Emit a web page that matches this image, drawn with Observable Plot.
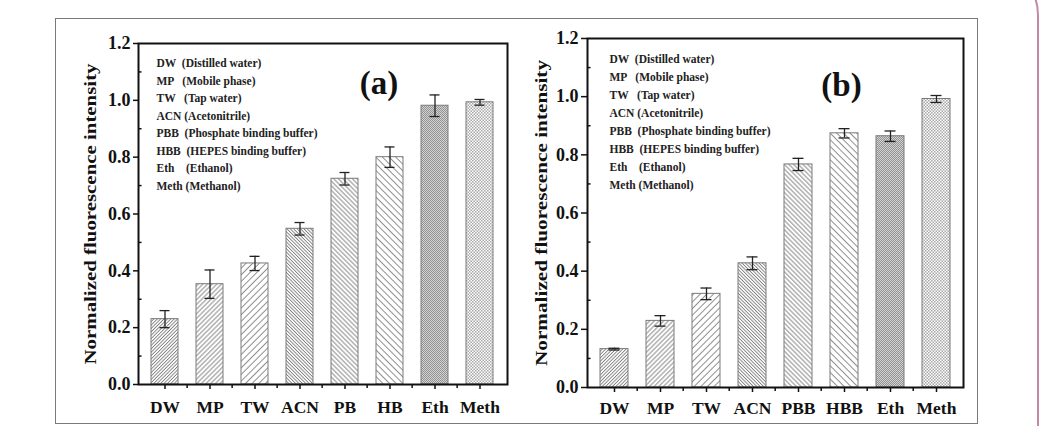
<!DOCTYPE html>
<html>
<head>
<meta charset="utf-8">
<script src="https://cdn.jsdelivr.net/npm/d3@7"></script>
<script src="https://cdn.jsdelivr.net/npm/@observablehq/plot@0.6"></script>
<style>
  html, body { margin: 0; padding: 0; background: #fff; }
  body { width: 1041px; height: 426px; position: relative; overflow: hidden; }
  .panel { position: absolute; top: 19px; }
  .panel svg text { white-space: pre; }
  #frame { position: absolute; left: 55px; top: 18px; width: 923px; height: 406px; box-sizing: border-box; border: 1px solid #7a7a7a; }
  #pink { position: absolute; left: -100px; top: -35px; width: 1139px; height: 600px; box-sizing: border-box; border: 2px solid #c48aa5; border-radius: 50px; }
</style>
</head>
<body>
<svg width="0" height="0" style="position:absolute">
  <defs>
    <pattern id="hD1" patternUnits="userSpaceOnUse" width="2.4" height="4" patternTransform="rotate(45)">
      <rect width="2.4" height="4" fill="#fff"/><line x1="1.2" y1="0" x2="1.2" y2="4" stroke="#7d7d7d" stroke-width="0.9"/>
    </pattern>
    <pattern id="hD2" patternUnits="userSpaceOnUse" width="3.3" height="4" patternTransform="rotate(45)">
      <rect width="3.3" height="4" fill="#fff"/><line x1="1.6" y1="0" x2="1.6" y2="4" stroke="#7d7d7d" stroke-width="0.9"/>
    </pattern>
    <pattern id="hD3" patternUnits="userSpaceOnUse" width="4.7" height="4" patternTransform="rotate(45)">
      <rect width="4.7" height="4" fill="#fff"/><line x1="2.3" y1="0" x2="2.3" y2="4" stroke="#7d7d7d" stroke-width="0.9"/>
    </pattern>
    <pattern id="hB1" patternUnits="userSpaceOnUse" width="2.4" height="4" patternTransform="rotate(-45)">
      <rect width="2.4" height="4" fill="#fff"/><line x1="1.2" y1="0" x2="1.2" y2="4" stroke="#7d7d7d" stroke-width="0.9"/>
    </pattern>
    <pattern id="hB2" patternUnits="userSpaceOnUse" width="3.3" height="4" patternTransform="rotate(-45)">
      <rect width="3.3" height="4" fill="#fff"/><line x1="1.6" y1="0" x2="1.6" y2="4" stroke="#7d7d7d" stroke-width="0.9"/>
    </pattern>
    <pattern id="hB3" patternUnits="userSpaceOnUse" width="4.7" height="4" patternTransform="rotate(-45)">
      <rect width="4.7" height="4" fill="#fff"/><line x1="2.3" y1="0" x2="2.3" y2="4" stroke="#7d7d7d" stroke-width="0.9"/>
    </pattern>
    <pattern id="cD" patternUnits="userSpaceOnUse" width="2" height="2">
      <rect width="2" height="2" fill="#d2d2d2"/><rect width="1" height="1" fill="#939393"/><rect x="1" y="1" width="1" height="1" fill="#939393"/>
    </pattern>
    <pattern id="cL" patternUnits="userSpaceOnUse" width="3" height="3">
      <rect width="3" height="3" fill="#fff"/><rect width="1.5" height="1.5" fill="#a8a8a8"/><rect x="1.5" y="1.5" width="1.5" height="1.5" fill="#a8a8a8"/>
    </pattern>
  </defs>
</svg>
<div id="frame"></div>
<div id="pink"></div>
<div id="pa" class="panel" style="left:55px"></div>
<div id="pb" class="panel" style="left:520px"></div>
<script>
// ---- data ----
const categoriesA = ["DW", "MP", "TW", "ACN", "PB", "HB", "Eth", "Meth"];
const valuesA = [0.230, 0.353, 0.426, 0.548, 0.724, 0.800, 0.981, 0.993];
const errorsA = [0.030, 0.050, 0.025, 0.022, 0.022, 0.036, 0.038, 0.010];

const categoriesB = ["DW", "MP", "TW", "ACN", "PBB", "HBB", "Eth", "Meth"];
const valuesB = [0.132, 0.229, 0.322, 0.427, 0.767, 0.874, 0.864, 0.992];
const errorsB = [0.003, 0.018, 0.020, 0.022, 0.021, 0.016, 0.018, 0.012];

const legendLines = [
  "DW  (Distilled water)",
  "MP   (Mobile phase)",
  "TW   (Tap water)",
  "ACN (Acetonitrile)",
  "PBB  (Phosphate binding buffer)",
  "HBB  (HEPES binding buffer)",
  "Eth    (Ethanol)",
  "Meth (Methanol)"
];
const majorTicks = [0, 0.2, 0.4, 0.6, 0.8, 1.0, 1.2];
const minorTicks = [0.1, 0.3, 0.5, 0.7, 0.9, 1.1];
const yTitle = "Normalized fluorescence intensity";
const patternIds = ["hD1", "hD2", "hD3", "hB1", "hB2", "hB3", "cD", "cL"];

function panel(cats, vals, errs, label, cfg) {
  const data = cats.map((c, i) => ({c, v: vals[i], e: errs[i], p: `url(#${patternIds[i]})`}));
  const pi = 0.39, po = 0.23;
  const W = cfg.width - cfg.ml - cfg.mr;
  const step = W / (cats.length - pi + 2 * po);
  const font = "'Liberation Serif', 'Times New Roman', serif";
  const svg = Plot.plot({
    width: cfg.width, height: cfg.height,
    marginLeft: cfg.ml, marginRight: cfg.mr, marginTop: cfg.mt, marginBottom: cfg.mb,
    style: {fontFamily: font, fontWeight: "bold", background: "transparent", color: "#111", overflow: "visible"},
    x: {domain: cats, paddingInner: pi, paddingOuter: po},
    y: {domain: [0, 1.2]},
    color: {type: "identity"},
    marks: [
      Plot.barY(data, {x: "c", y: "v", fill: "p", stroke: "#7a7a7a", strokeWidth: 1}),
      Plot.ruleX(data, {x: "c", y1: d => d.v - d.e, y2: d => d.v + d.e, stroke: "#222", strokeWidth: 1.3}),
      Plot.tickY(data, {x: "c", y: d => d.v - d.e, insetLeft: 8.5, insetRight: 8.5, stroke: "#222", strokeWidth: 1.3}),
      Plot.tickY(data, {x: "c", y: d => d.v + d.e, insetLeft: 8.5, insetRight: 8.5, stroke: "#222", strokeWidth: 1.3}),
      Plot.tickY(minorTicks, {y: d => d, insetRight: W - 3.5, stroke: "#111", strokeWidth: 1.5}),
      Plot.frame({stroke: "#111", strokeWidth: 2}),
      Plot.axisY({ticks: majorTicks, tickFormat: d3.format(".1f"), tickSize: cfg.yTick, tickPadding: 3, fontSize: 18, label: null, strokeWidth: 1.5}),
      Plot.axisX({tickSize: 5, tickPadding: cfg.xPad, fontSize: 17.5, label: null, strokeWidth: 1.5}),
      Plot.axisX(cats.slice(1), {tickSize: 4, text: null, dx: -step / 2, label: null, strokeWidth: 1.5}),
      Plot.text([yTitle], {frameAnchor: "left", textAnchor: "middle", rotate: -90, dx: cfg.titleDx, fontSize: 18, fill: "#111"}),
      Plot.text([legendLines.join("\n")], {frameAnchor: "top-left", textAnchor: "start", lineAnchor: "top", dx: cfg.legDx, dy: cfg.legDy, fontSize: 11.5, lineHeight: cfg.legLH, fill: "#222"}),
      Plot.text([label], {frameAnchor: "top", lineAnchor: "middle", dx: cfg.labDx, dy: cfg.labDy, fontSize: 33, fill: "#111"})
    ]
  });
  // stretch the rotated title along its length (the reference figure is slightly condensed horizontally)
  svg.querySelectorAll("text").forEach(t => {
    if (t.textContent === yTitle) {
      const tr = t.getAttribute("transform");
      if (tr) t.setAttribute("transform", tr + ` scale(${cfg.titleScale},0.95)`);
    }
  });
  return svg;
}

document.getElementById("pa").appendChild(panel(categoriesA, valuesA, errorsA, "(a)", {
  width: 465, height: 407, ml: 83, mr: 13, mt: 24, mb: 42,
  yTick: 5, xPad: 11, titleDx: -48, titleScale: 1.16,
  legDx: 18, legDy: 11.5, legLH: 1.52, labDx: 56, labDy: 40
}));
document.getElementById("pb").appendChild(panel(categoriesB, valuesB, errorsB, "(b)", {
  width: 458, height: 407, ml: 67, mr: 15, mt: 19, mb: 39,
  yTick: 6, xPad: 9, titleDx: -46, titleScale: 1.18,
  legDx: 22, legDy: 12, legLH: 1.56, labDx: 66, labDy: 47
}));
</script>
</body>
</html>
